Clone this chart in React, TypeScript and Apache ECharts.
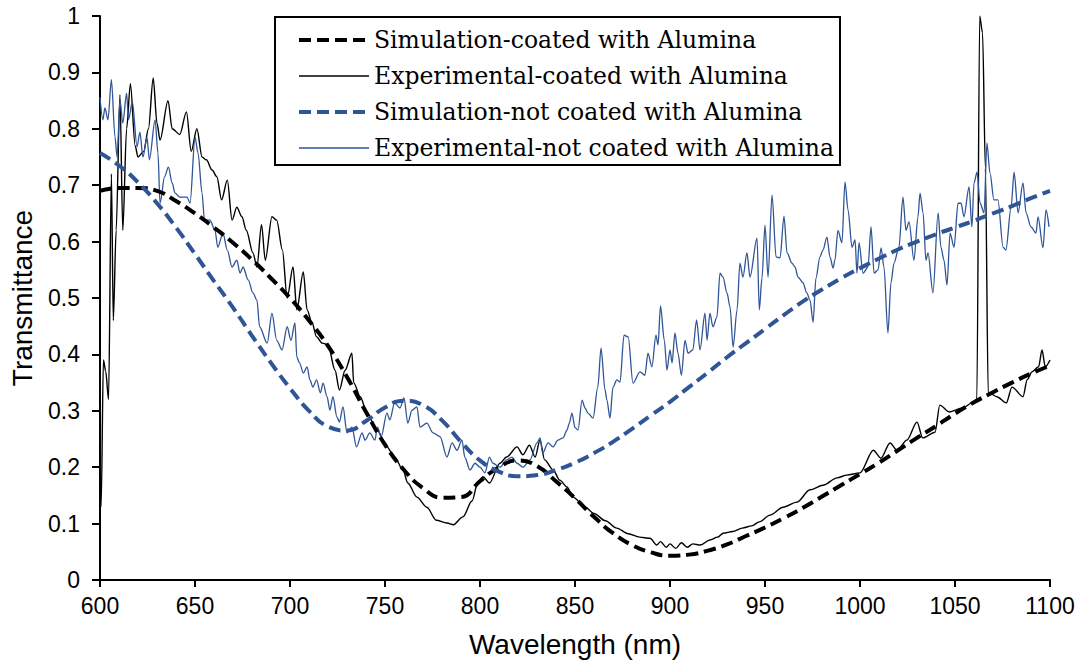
import React, { useEffect, useRef } from "react";
import * as echarts from "echarts";

const X_TICKS = [600, 650, 700, 750, 800, 850, 900, 950, 1000, 1050, 1100];
const SIM_WL = [600, 610, 620, 630, 640, 650, 660, 670, 680, 690, 700, 710, 720, 730, 740, 750, 760, 770, 780, 790, 800, 810, 820, 830, 840, 850, 860, 870, 880, 890, 900, 910, 920, 930, 940, 950, 960, 970, 980, 990, 1000, 1010, 1020, 1030, 1040, 1050, 1060, 1070, 1080, 1090, 1100];
const SIM_COATED = [0.69, 0.695, 0.695, 0.69, 0.672, 0.65, 0.625, 0.598, 0.568, 0.535, 0.5, 0.46, 0.415, 0.36, 0.298, 0.24, 0.195, 0.163, 0.146, 0.147, 0.175, 0.2, 0.212, 0.202, 0.175, 0.145, 0.112, 0.083, 0.062, 0.049, 0.043, 0.045, 0.052, 0.063, 0.078, 0.093, 0.11, 0.128, 0.148, 0.168, 0.188, 0.208, 0.23, 0.252, 0.273, 0.295, 0.315, 0.333, 0.35, 0.366, 0.38];
const SIM_NOT_COATED = [0.757, 0.735, 0.705, 0.668, 0.625, 0.578, 0.53, 0.483, 0.433, 0.385, 0.34, 0.3, 0.272, 0.265, 0.282, 0.306, 0.318, 0.31, 0.283, 0.245, 0.212, 0.192, 0.184, 0.186, 0.195, 0.208, 0.225, 0.245, 0.268, 0.292, 0.316, 0.342, 0.368, 0.395, 0.42, 0.445, 0.47, 0.494, 0.515, 0.535, 0.553, 0.57, 0.586, 0.6, 0.613, 0.625, 0.637, 0.65, 0.663, 0.677, 0.69];

const EXP_COATED: [number, number][] = [
  [600, 0.14], [600.6, 0.13], [601.8, 0.39], [603, 0.37], [604.5, 0.32], [606, 0.72], [607, 0.46], [608.5, 0.62],
  [610.5, 0.86], [612, 0.62], [614, 0.8], [616, 0.88], [618.5, 0.77], [620, 0.75], [623, 0.76], [625.5, 0.8],
  [628, 0.89], [630, 0.81], [631.6, 0.78], [635.8, 0.85], [638, 0.8], [642, 0.79], [645.5, 0.83], [648, 0.76],
  [651, 0.8], [653.7, 0.75], [656, 0.745], [659, 0.727], [661.5, 0.715], [664, 0.674], [667, 0.709], [669.5, 0.638],
  [672, 0.661], [674.7, 0.644], [677, 0.62], [680.5, 0.58], [682.6, 0.555], [685, 0.63], [687, 0.567], [690.5, 0.644],
  [693, 0.638], [696, 0.585], [698.5, 0.5], [701.6, 0.555], [703.6, 0.479], [707, 0.546], [709, 0.479], [711.6, 0.456],
  [714, 0.431], [717, 0.42], [720, 0.417], [723.7, 0.372], [726, 0.337], [729, 0.372], [732.6, 0.402], [733.5, 0.35],
  [737, 0.325], [740.5, 0.296], [745.8, 0.266], [751, 0.236], [755, 0.218], [759.5, 0.195], [762, 0.172], [766.8, 0.147],
  [772, 0.129], [777, 0.106], [782.6, 0.101], [786, 0.098], [791, 0.112], [795.8, 0.14], [799, 0.175], [801.6, 0.183],
  [805, 0.172], [810.5, 0.207], [814, 0.218], [819.5, 0.236], [822.6, 0.222], [826, 0.239], [829, 0.218], [831.6, 0.248],
  [834, 0.213], [838.5, 0.195], [842, 0.177], [845.8, 0.165], [849, 0.147], [855, 0.13], [860, 0.118], [866, 0.105],
  [872, 0.092], [878, 0.082], [884, 0.076], [889.5, 0.074], [893, 0.062], [895, 0.068], [898, 0.058], [900, 0.064],
  [903, 0.056], [906, 0.066], [909, 0.058], [912, 0.064], [916, 0.062], [921, 0.071], [925, 0.076], [928, 0.083],
  [933, 0.086], [938, 0.092], [943, 0.096], [947, 0.103], [952.6, 0.115], [959.5, 0.129], [966.8, 0.138], [973.7, 0.16],
  [980.5, 0.168], [987.9, 0.181], [993, 0.186], [1000, 0.19], [1007, 0.23], [1011, 0.216], [1015.8, 0.243], [1019.5, 0.23],
  [1024.7, 0.248], [1030, 0.28], [1033, 0.252], [1039.5, 0.262], [1042, 0.31], [1047, 0.298], [1054, 0.305], [1059, 0.314],
  [1061.5, 0.32], [1063, 1.0], [1064.5, 0.97], [1066, 0.73], [1067.5, 0.33], [1068.4, 0.331], [1072, 0.325], [1077, 0.314],
  [1080, 0.342], [1085.8, 0.325], [1088, 0.355], [1090.5, 0.369], [1094, 0.378], [1095.8, 0.408], [1097.5, 0.378], [1100, 0.39],
];

const EXP_NOT_COATED: [number, number][] = [
  [600, 0.856], [601.5, 0.816], [602.6, 0.837], [604.2, 0.816], [606, 0.887], [607.9, 0.785], [609, 0.75], [610.5, 0.851],
  [612, 0.81], [614, 0.863], [615, 0.816], [617, 0.848], [619.5, 0.768], [621, 0.794], [622.6, 0.75], [624.7, 0.785],
  [626, 0.745], [629, 0.816], [630.5, 0.757], [631.6, 0.668], [634, 0.715], [636, 0.732], [638, 0.704], [639.5, 0.686],
  [642, 0.679], [645.8, 0.679], [647.4, 0.668], [650, 0.785], [651.6, 0.757], [653.7, 0.686], [655, 0.638], [657.9, 0.638],
  [660.5, 0.62], [662, 0.59], [664.7, 0.615], [667, 0.585], [669.5, 0.555], [672, 0.567], [673.7, 0.544], [675.3, 0.555],
  [678, 0.532], [680.5, 0.509], [682.6, 0.496], [684, 0.449], [688, 0.42], [690.5, 0.473], [693, 0.425], [695.8, 0.408],
  [698.5, 0.449], [700.5, 0.425], [702.6, 0.456], [703.6, 0.395], [705, 0.385], [707, 0.367], [709, 0.378], [710.5, 0.355],
  [712, 0.342], [714, 0.355], [716, 0.332], [717.4, 0.349], [719.5, 0.325], [721, 0.301], [722.6, 0.325], [724.7, 0.289],
  [726, 0.28], [727.9, 0.307], [730, 0.261], [732.6, 0.271], [735, 0.236], [737.9, 0.261], [739.5, 0.248], [742, 0.261],
  [744.7, 0.248], [746, 0.271], [748, 0.254], [751, 0.296], [752.6, 0.284], [755, 0.314], [757.9, 0.305], [760, 0.323],
  [762, 0.278], [764.2, 0.301], [766.8, 0.307], [768.4, 0.271], [772, 0.278], [775.3, 0.261], [779, 0.254], [782.6, 0.218],
  [785.3, 0.243], [787.9, 0.23], [790.5, 0.248], [792, 0.218], [794.7, 0.195], [797.4, 0.207], [800, 0.2], [802.6, 0.19],
  [805, 0.218], [806.8, 0.207], [810.5, 0.2], [814, 0.213], [816.8, 0.218], [819.5, 0.207], [822.6, 0.2], [826.3, 0.213],
  [830, 0.243], [831.6, 0.252], [833, 0.225], [835.8, 0.243], [838.5, 0.236], [841, 0.248], [843.7, 0.252], [845.8, 0.266],
  [847, 0.278], [848.4, 0.296], [850, 0.27], [851.6, 0.266], [853.7, 0.319], [855.3, 0.305], [856.8, 0.296], [859.5, 0.287],
  [862, 0.342], [863.7, 0.411], [865.8, 0.337], [866.8, 0.319], [868.4, 0.287], [870, 0.342], [872, 0.355], [873.7, 0.351],
  [875.8, 0.434], [878, 0.431], [880.5, 0.349], [884.2, 0.369], [886.8, 0.363], [888.4, 0.402], [890.5, 0.378], [892.6, 0.434],
  [893.7, 0.417], [895, 0.486], [897, 0.425], [898.4, 0.372], [900, 0.408], [901.1, 0.385], [902.6, 0.438], [904.2, 0.402],
  [906, 0.363], [907.9, 0.425], [909.5, 0.402], [912, 0.408], [914, 0.461], [915.8, 0.408], [918.4, 0.473], [919.5, 0.425],
  [921, 0.473], [922.6, 0.449], [924.7, 0.466], [926.3, 0.544], [927.9, 0.537], [930, 0.509], [931.6, 0.484], [933.2, 0.413],
  [935.3, 0.479], [936.8, 0.562], [938.4, 0.537], [940.5, 0.58], [942.1, 0.537], [945.8, 0.606], [947, 0.479], [948.4, 0.535],
  [950, 0.629], [951.6, 0.537], [953.7, 0.683], [955.8, 0.573], [957.9, 0.571], [960, 0.645], [961.6, 0.58], [964.2, 0.562],
  [965.8, 0.555], [967.4, 0.537], [970, 0.527], [972, 0.509], [973.7, 0.496], [975.3, 0.457], [976.8, 0.535], [978.9, 0.573],
  [980.5, 0.585], [982.6, 0.608], [984.2, 0.573], [985.8, 0.553], [986.8, 0.567], [988.4, 0.62], [990.5, 0.598], [992.1, 0.706],
  [993.7, 0.656], [995.8, 0.59], [997.4, 0.603], [998.4, 0.544], [999.5, 0.598], [1001.6, 0.544], [1004.2, 0.555], [1005.8, 0.626],
  [1007.4, 0.544], [1009.5, 0.55], [1011.1, 0.589], [1012.6, 0.555], [1014.7, 0.438], [1016.3, 0.527], [1017.9, 0.562], [1020.5, 0.59],
  [1022.6, 0.679], [1024.2, 0.62], [1025.8, 0.635], [1028.4, 0.567], [1030.5, 0.644], [1031.6, 0.686], [1033.2, 0.651], [1034.7, 0.567],
  [1035.8, 0.58], [1038.4, 0.509], [1041.1, 0.651], [1042.6, 0.59], [1044.2, 0.567], [1045.8, 0.523], [1047.4, 0.615], [1049.5, 0.59],
  [1051.6, 0.668], [1053.2, 0.668], [1054.7, 0.644], [1057.4, 0.697], [1058.9, 0.626], [1060, 0.704], [1061.6, 0.723], [1063.2, 0.668],
  [1065.3, 0.651], [1066.8, 0.775], [1068.4, 0.722], [1070.5, 0.674], [1072.6, 0.674], [1075.3, 0.59], [1076.8, 0.585], [1079.5, 0.661],
  [1081.1, 0.723], [1083.2, 0.651], [1085.8, 0.704], [1087.4, 0.651], [1090, 0.626], [1092.6, 0.615], [1093.7, 0.644], [1096.3, 0.589],
  [1097.9, 0.656], [1099.5, 0.626],
];

const NAMES = [
  "Simulation-coated with Alumina",
  "Experimental-coated with Alumina",
  "Simulation-not coated with Alumina",
  "Experimental-not coated with Alumina",
];

const BLUE = "#2F5597";
const DASH = [12, 6];

export default function App() {
  const ref = useRef<HTMLDivElement>(null);
  useEffect(() => {
    document.body.style.margin = "0";
    const chart = echarts.init(ref.current!, null, { renderer: "svg" });
    const axisFont = "'Liberation Sans', Arial, sans-serif";
    const legendStyles = [
      { color: "#000", width: 4, type: DASH },
      { color: "#000", width: 1.5, type: "solid" },
      { color: BLUE, width: 4, type: DASH },
      { color: BLUE, width: 1.5, type: "solid" },
    ];
    chart.setOption({
      animation: false,
      backgroundColor: "#fff",
      grid: { left: 100, right: 32, top: 16, bottom: 84 },
      xAxis: {
        type: "value",
        min: X_TICKS[0],
        max: X_TICKS[X_TICKS.length - 1],
        interval: 50,
        name: "Wavelength (nm)",
        nameLocation: "middle",
        nameGap: 50,
        nameTextStyle: { fontSize: 28, color: "#000", fontFamily: axisFont },
        axisLine: { show: true, lineStyle: { color: "#000", width: 2 } },
        axisTick: { show: true, length: 7, lineStyle: { color: "#000", width: 2 } },
        axisLabel: { fontSize: 23, color: "#000", fontFamily: axisFont, margin: 14, formatter: (v: number) => String(v) },
        splitLine: { show: false },
      },
      yAxis: {
        type: "value",
        min: 0,
        max: 1,
        interval: 0.1,
        name: "Transmittance",
        nameLocation: "middle",
        nameGap: 64,
        nameTextStyle: { fontSize: 28, color: "#000", fontFamily: axisFont },
        axisLine: { show: true, lineStyle: { color: "#000", width: 2 } },
        axisTick: { show: true, length: 8, lineStyle: { color: "#000", width: 2 } },
        axisLabel: { fontSize: 23, color: "#000", fontFamily: axisFont, margin: 20 },
        splitLine: { show: false },
      },
      graphic: [
        {
          type: "rect",
          shape: { x: 275, y: 17, width: 565, height: 148 },
          style: { fill: "#fff", stroke: "#000", lineWidth: 2 },
          z: 10,
        },
      ],
      legend: {
        data: NAMES.map((n, i) => ({ name: n, itemStyle: { opacity: 0 }, lineStyle: legendStyles[i] })),
        orient: "vertical",
        left: 275,
        top: 17,
        padding: [10, 8, 10, 22],
        itemWidth: 70,
        itemHeight: 14,
        itemGap: 10,
        z: 20,
        textStyle: { fontSize: 23.5, lineHeight: 26, color: "#000", fontFamily: "'DejaVu Serif', serif" },
      },
      series: [
        {
          name: NAMES[1],
          type: "line",
          data: EXP_COATED,
          showSymbol: false,
          symbol: "none",
          smooth: 0.3,
          smoothMonotone: "x",
          lineStyle: { color: "#000", width: 1.4 },
          itemStyle: { color: "#000" },
          z: 2,
        },
        {
          name: NAMES[3],
          type: "line",
          data: EXP_NOT_COATED,
          showSymbol: false,
          symbol: "none",
          smooth: 0.3,
          smoothMonotone: "x",
          lineStyle: { color: BLUE, width: 1.3 },
          itemStyle: { color: BLUE },
          z: 2,
        },
        {
          name: NAMES[0],
          type: "line",
          data: SIM_WL.map((w, i) => [w, SIM_COATED[i]]),
          showSymbol: false,
          symbol: "none",
          smooth: true,
          lineStyle: { color: "#000", width: 4, type: DASH },
          itemStyle: { color: "#000" },
          z: 3,
        },
        {
          name: NAMES[2],
          type: "line",
          data: SIM_WL.map((w, i) => [w, SIM_NOT_COATED[i]]),
          showSymbol: false,
          symbol: "none",
          smooth: true,
          lineStyle: { color: BLUE, width: 4, type: DASH },
          itemStyle: { color: BLUE },
          z: 3,
        },
      ],
    });
    return () => chart.dispose();
  }, []);
  return <div ref={ref} style={{ width: 1082, height: 664 }} />;
}
